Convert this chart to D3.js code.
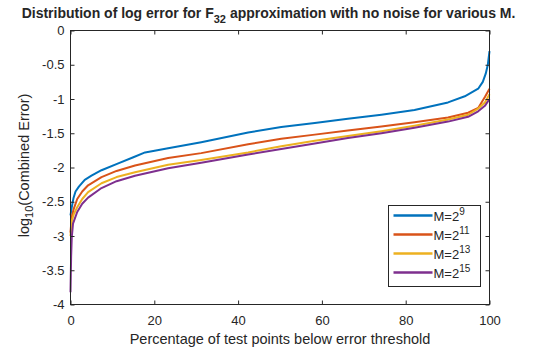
<!DOCTYPE html>
<html>
<head>
<meta charset="utf-8">
<script src="https://cdn.jsdelivr.net/npm/d3@7"></script>
<style>
  body { margin: 0; background: #fff; }
  text { font-family: "Liberation Sans", Arial, sans-serif; fill: #262626; }
</style>
</head>
<body>
<div id="chart"></div>
<script>
// data: [percentage, log10 error]
const seriesNames = ["9", "11", "13", "15"];
const seriesColors = ["#0072BD", "#D95319", "#EDB120", "#7E2F8E"];

const m9 = [[0,-2.7],[0.3,-2.58],[0.7,-2.45],[1.2,-2.35],[2,-2.28],[3.4,-2.18],[5,-2.12],[7.4,-2.04],[11.4,-1.94],[15,-1.85],[17.8,-1.78],[23.3,-1.72],[31.2,-1.63],[42.4,-1.49],[50.3,-1.41],[58.3,-1.35],[66.2,-1.29],[74.2,-1.23],[82.1,-1.16],[90.1,-1.05],[94.1,-0.96],[97.3,-0.85],[98.4,-0.75],[99.1,-0.63],[99.6,-0.5],[100,-0.3]];
const m11 = [[0,-2.95],[0.3,-2.72],[0.8,-2.6],[1.6,-2.46],[2.8,-2.35],[4.2,-2.26],[7.4,-2.14],[11,-2.05],[15.4,-1.97],[23.3,-1.86],[31.2,-1.79],[42.4,-1.66],[50.3,-1.58],[58.3,-1.52],[66.2,-1.46],[74.2,-1.40],[82.1,-1.34],[90.1,-1.27],[94.9,-1.20],[97.3,-1.13],[98.9,-0.97],[100,-0.85]];
const m13 = [[0,-3.0],[0.3,-2.78],[0.8,-2.68],[1.6,-2.58],[2.8,-2.46],[4.2,-2.36],[7.4,-2.23],[11,-2.14],[15.4,-2.07],[23.3,-1.96],[31.2,-1.89],[42.4,-1.78],[50.3,-1.69],[58.3,-1.61],[66.2,-1.54],[74.2,-1.47],[82.1,-1.39],[90.1,-1.30],[94.9,-1.23],[97.3,-1.14],[98.9,-1.05],[100,-0.93]];
const m15 = [[0,-3.82],[0.15,-3.3],[0.3,-3.02],[0.6,-2.82],[1.6,-2.65],[2.8,-2.53],[4.2,-2.44],[7.4,-2.30],[11,-2.20],[15.4,-2.12],[23.3,-2.01],[31.2,-1.93],[42.4,-1.81],[50.3,-1.73],[58.3,-1.65],[66.2,-1.57],[74.2,-1.50],[82.1,-1.42],[90.1,-1.33],[94.9,-1.26],[97.3,-1.18],[98.9,-1.1],[100,-1.0]];

const xTicks = [0, 20, 40, 60, 80, 100];
const yTicks = [0, -0.5, -1, -1.5, -2, -2.5, -3, -3.5, -4];

const width = 541, height = 348;
const x0 = 70.5, x1 = 489.5, y0 = 30.5, y1 = 304.5;

const svg = d3.select("#chart").append("svg")
    .attr("width", width)
    .attr("height", height);

const x = d3.scaleLinear().domain([0, 100]).range([x0, x1]);
const y = d3.scaleLinear().domain([-4, 0]).range([y1, y0]);

// lines
const line = d3.line().x(d => x(d[0])).y(d => y(d[1]));
const allSeries = [m9, m11, m13, m15];

svg.append("g").selectAll("path")
    .data(allSeries)
    .enter()
    .append("path")
    .attr("d", line)
    .attr("fill", "none")
    .attr("stroke", (d, i) => seriesColors[i])
    .attr("stroke-width", 2)
    .attr("stroke-linejoin", "round");

// axes (inward ticks, box)
const axisColor = "#262626";
svg.append("g").attr("transform", `translate(${x0},0)`)
    .call(d3.axisLeft(y).tickValues(yTicks).tickSizeInner(-4).tickSizeOuter(0).tickPadding(6)
        .tickFormat(d => String(d)));
svg.append("g").attr("transform", `translate(0,${y1})`)
    .call(d3.axisBottom(x).tickValues(xTicks).tickSizeInner(-4).tickSizeOuter(0).tickPadding(11));
svg.append("g").attr("transform", `translate(${x1},0)`)
    .call(d3.axisRight(y).tickValues(yTicks).tickSizeInner(-4).tickSizeOuter(0).tickFormat(""));
svg.append("g").attr("transform", `translate(0,${y0})`)
    .call(d3.axisTop(x).tickValues(xTicks).tickSizeInner(-4).tickSizeOuter(0).tickFormat(""));

svg.selectAll(".domain").remove();
svg.selectAll(".tick line").attr("stroke", axisColor);
svg.selectAll(".tick text").attr("font-size", 13).attr("fill", axisColor)
    .attr("font-family", "Liberation Sans, Arial, sans-serif");

svg.append("rect")
    .attr("x", x0).attr("y", y0)
    .attr("width", x1 - x0).attr("height", y1 - y0)
    .attr("fill", "none")
    .attr("stroke", axisColor)
    .attr("stroke-width", 1);

// title
const title = svg.append("text")
    .attr("x", 268.5)
    .attr("y", 18)
    .attr("text-anchor", "middle")
    .attr("font-size", 14)
    .attr("font-weight", "bold")
    .attr("fill", "#000");
title.append("tspan").text("Distribution of log error for F");
title.append("tspan").attr("dy", 5).attr("font-size", 11).text("32");
title.append("tspan").attr("dy", -5).text(" approximation with no noise for various M.");

// x label
svg.append("text")
    .attr("x", (x0 + x1) / 2)
    .attr("y", 344)
    .attr("text-anchor", "middle")
    .attr("font-size", 14.5)
    .text("Percentage of test points below error threshold");

// y label
const ylab = svg.append("text")
    .attr("transform", `translate(28.5,165.5) rotate(-90)`)
    .attr("text-anchor", "middle")
    .attr("font-size", 14.5);
ylab.append("tspan").text("log");
ylab.append("tspan").attr("dy", 4).attr("font-size", 11).text("10");
ylab.append("tspan").attr("dy", -4).text("(Combined Error)");

// legend
const lg = svg.append("g").attr("transform", "translate(388.5,205.5)");
lg.append("rect")
    .attr("width", 92).attr("height", 81)
    .attr("fill", "#fff")
    .attr("stroke", axisColor)
    .attr("stroke-width", 1);

const rows = lg.selectAll("g.row")
    .data(seriesNames)
    .enter()
    .append("g")
    .attr("class", "row")
    .attr("transform", (d, i) => `translate(0,${10 + i * 19})`);

rows.append("line")
    .attr("x1", 5).attr("x2", 44)
    .attr("stroke", (d, i) => seriesColors[i])
    .attr("stroke-width", 2.5);

const lt = rows.append("text")
    .attr("x", 45)
    .attr("y", 5)
    .attr("font-size", 13);
lt.append("tspan").text("M=2");
lt.append("tspan").attr("dy", -6).attr("font-size", 10).text(d => d);
</script>
</body>
</html>
